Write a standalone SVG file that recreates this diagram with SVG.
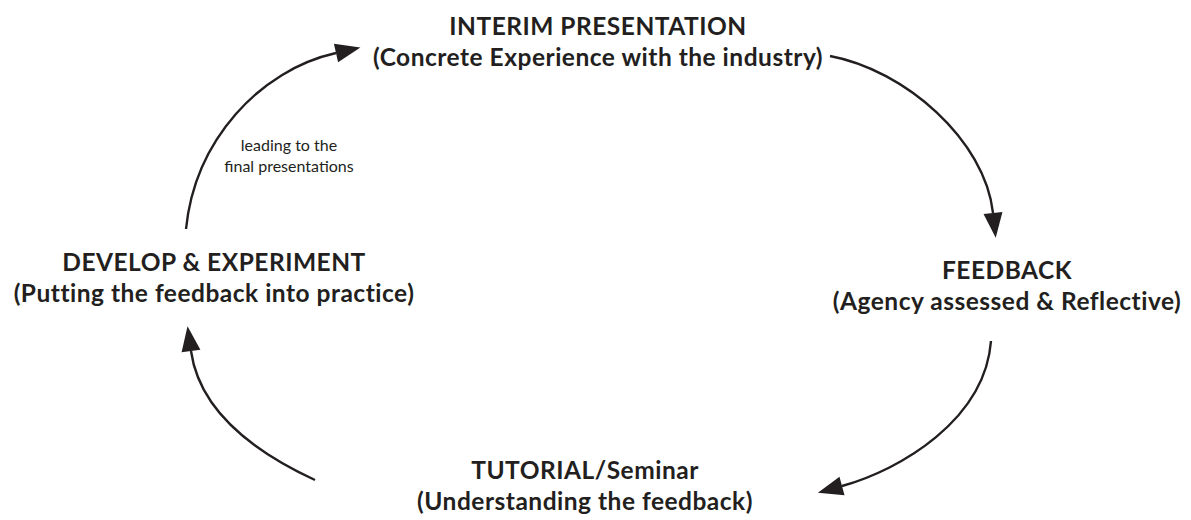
<svg xmlns="http://www.w3.org/2000/svg" width="1191" height="520" viewBox="0 0 1191 520">
  <style>
    .title { font-family: Lato, "Liberation Sans", sans-serif; font-weight: bold; font-size: 24.5px; letter-spacing: 0.5px; fill: #231f20; text-anchor: middle; }
    .note { font-family: Lato, "Liberation Sans", sans-serif; font-size: 16px; fill: #231f20; text-anchor: middle; }
    .conn { fill: none; stroke: #231f20; stroke-width: 2.4; }
  </style>
  <defs>
    <marker id="arrow" markerUnits="userSpaceOnUse" markerWidth="26" markerHeight="20" refX="0" refY="10" orient="auto" overflow="visible">
      <path d="M0,0.5 L25,10 L0,19.5 Z" fill="#231f20"/>
    </marker>
  </defs>
  <rect width="1191" height="520" fill="#ffffff"/>

  <g id="connectors">
    <path class="conn" d="M186,229 C195,140 260,70 336,53" marker-end="url(#arrow)"/>
    <path class="conn" d="M830,56 C905,70 985,140 993,213" marker-end="url(#arrow)"/>
    <path class="conn" d="M991,341 C985,420 900,470 842,486" marker-end="url(#arrow)"/>
    <path class="conn" d="M315,480 C248,449 199,408 191,351" marker-end="url(#arrow)"/>
  </g>

  <g id="node-interim">
    <text class="title" x="598" y="35">INTERIM PRESENTATION</text>
    <text class="title" x="598" y="66">(Concrete Experience with the industry)</text>
  </g>
  <g id="node-feedback">
    <text class="title" x="1007" y="279">FEEDBACK</text>
    <text class="title" x="1007" y="310">(Agency assessed &amp; Reflective)</text>
  </g>
  <g id="node-tutorial">
    <text class="title" x="585" y="479">TUTORIAL/Seminar</text>
    <text class="title" x="585" y="510">(Understanding the feedback)</text>
  </g>
  <g id="node-develop">
    <text class="title" x="214" y="271">DEVELOP &amp; EXPERIMENT</text>
    <text class="title" x="214" y="302">(Putting the feedback into practice)</text>
  </g>
  <g id="label-leading">
    <text class="note" x="289" y="151">leading to the</text>
    <text class="note" x="289" y="172">final presentations</text>
  </g>
</svg>
